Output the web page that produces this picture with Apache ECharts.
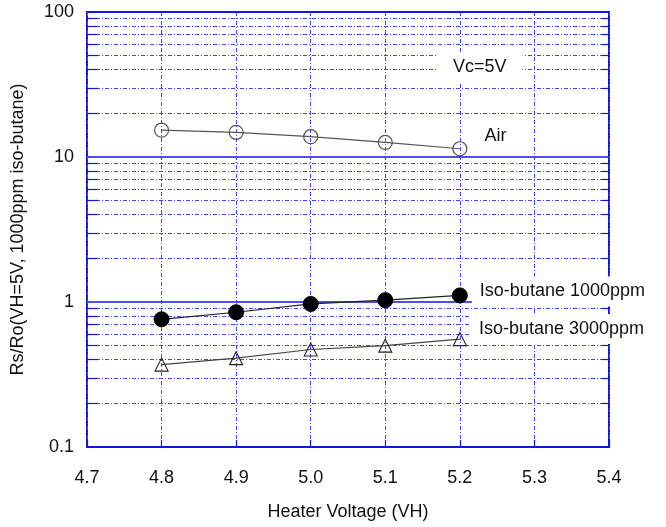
<!DOCTYPE html>
<html>
<head>
<meta charset="utf-8">
<script src="https://cdn.jsdelivr.net/npm/echarts@6/dist/echarts.min.js"></script>
<style>
html,body{margin:0;padding:0;background:#fff;}
#chart{width:666px;height:527px;}
</style>
</head>
<body>
<div id="chart"></div>
<script>
// ---- data ----
var voltages = [4.8, 4.9, 5.0, 5.1, 5.2];
var airValues = [15.3, 14.8, 13.8, 12.6, 11.4];
var iso1000Values = [0.76, 0.85, 0.97, 1.03, 1.11];
var iso3000Values = [0.37, 0.41, 0.47, 0.50, 0.555];
var seriesNames = ['Air', 'Iso-butane 1000ppm', 'Iso-butane 3000ppm'];
var xTicks = [4.7, 4.8, 4.9, 5.0, 5.1, 5.2, 5.3, 5.4];
var yTicks = [0.1, 1, 10, 100];
var minorValues = [0.2,0.3,0.4,0.5,0.6,0.7,0.8,0.9, 2,3,4,5,6,7,8,9, 20,30,40,50,60,70,80,90];
var annotation = 'Vc=5V';
var xTitle = 'Heater Voltage (VH)';
var yTitle = 'Rs/Ro(VH=5V, 1000ppm iso-butane)';

var FONT = "'Liberation Sans', Arial, sans-serif";
var BLUE = '#1414e6';
var DASHBLUE = '#4444ff';
var DASH = [4, 2, 1, 2];

function pairs(vals) {
  return voltages.map(function (v, i) { return [v, vals[i]]; });
}

var xMin = xTicks[0], xMax = xTicks[xTicks.length - 1];

// minor grid lines and their solid tick segments at the left/right edges
var gridData = [];
minorValues.forEach(function (v) {
  gridData.push({ yAxis: v, lineStyle: { color: DASHBLUE, type: DASH, width: 1 } });
});
minorValues.forEach(function (v) {
  gridData.push([{ coord: [xMin, v], lineStyle: { color: BLUE, type: 'solid', width: 1.2 } }, { coord: [xMin + 0.015, v] }]);
  gridData.push([{ coord: [xMax - 0.0095, v], lineStyle: { color: BLUE, type: 'solid', width: 1.2 } }, { coord: [xMax, v] }]);
});

function lastLabel(vals, text, labelOpt) {
  var d = pairs(vals);
  d[d.length - 1] = { value: d[d.length - 1], label: Object.assign({ show: true, formatter: text, position: 'right', color: '#111', fontSize: 18, fontFamily: FONT }, labelOpt) };
  return d;
}

var chart = echarts.init(document.getElementById('chart'), null, { renderer: 'canvas' });
chart.setOption({
  animation: false,
  backgroundColor: '#fff',
  title: {
    text: annotation,
    left: 437,
    top: 52,
    z: 6,
    padding: [6, 16, 6, 16],
    backgroundColor: '#fff',
    textStyle: { fontSize: 18, fontWeight: 'normal', color: '#111', fontFamily: FONT }
  },
  grid: {
    left: 87, top: 12, right: 57, bottom: 80,
    show: true, borderColor: BLUE, borderWidth: 2, backgroundColor: 'transparent'
  },
  xAxis: {
    type: 'value',
    min: xMin, max: xMax, interval: 0.1,
    name: xTitle,
    nameLocation: 'middle',
    nameGap: 56,
    nameTextStyle: { fontSize: 18, color: '#111', fontFamily: FONT },
    axisLine: { show: false },
    axisTick: { show: true, inside: true, length: 7, lineStyle: { color: BLUE, width: 1.2 } },
    axisLabel: { fontSize: 18, color: '#111', fontFamily: FONT, margin: 22, formatter: function (v) { return v.toFixed(1); } },
    splitLine: { show: true, lineStyle: { color: DASHBLUE, type: DASH, width: 1 } }
  },
  yAxis: {
    type: 'log',
    logBase: 10,
    min: yTicks[0], max: yTicks[yTicks.length - 1],
    name: yTitle,
    nameLocation: 'middle',
    nameGap: 60,
    nameTextStyle: { fontSize: 18, color: '#111', fontFamily: FONT },
    axisLine: { show: false },
    axisTick: { show: false },
    axisLabel: { fontSize: 18, color: '#111', fontFamily: FONT, margin: 13, formatter: function (v) { return String(v); } },
    splitLine: { show: true, lineStyle: { color: BLUE, width: 1.5 } }
  },
  series: [
    {
      type: 'line', data: [], z: 1, silent: true,
      markLine: { z: 1, silent: true, symbol: ['none', 'none'], label: { show: false }, animation: false, data: gridData }
    },
    {
      name: seriesNames[0], type: 'line', z: 3,
      data: lastLabel(airValues, seriesNames[0], { offset: [12, -13] }),
      symbol: 'circle', symbolSize: 14,
      itemStyle: { color: 'rgba(255,255,255,0)', borderColor: '#555', borderWidth: 1.2 },
      lineStyle: { color: '#555', width: 1.2 }
    },
    {
      name: seriesNames[1], type: 'line', z: 3,
      data: lastLabel(iso1000Values, seriesNames[1], { offset: [-1, -4], backgroundColor: '#fff', padding: [6, 8, 6, 8] }),
      symbol: 'circle', symbolSize: 15,
      itemStyle: { color: '#000', borderColor: '#000', borderWidth: 1 },
      lineStyle: { color: '#222', width: 1.2 }
    },
    {
      name: seriesNames[2], type: 'line', z: 3,
      data: lastLabel(iso3000Values, seriesNames[2], { offset: [-1, -10], backgroundColor: '#fff', padding: [6, 8, 6, 8] }),
      symbol: 'triangle', symbolSize: 13,
      itemStyle: { color: 'rgba(255,255,255,0)', borderColor: '#222', borderWidth: 1.1 },
      lineStyle: { color: '#444', width: 1.1 }
    }
  ]
});
</script>
</body>
</html>
